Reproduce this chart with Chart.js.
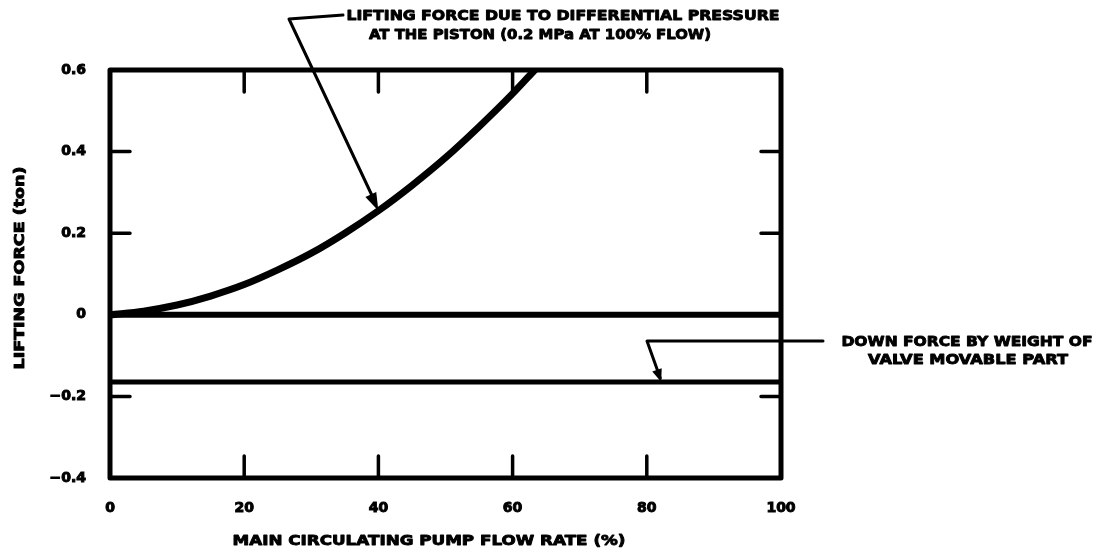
<!DOCTYPE html>
<html>
<head>
<meta charset="utf-8">
<script src="https://cdn.jsdelivr.net/npm/chart.js@4.4.1/dist/chart.umd.min.js"></script>
<style>
  html, body { margin: 0; padding: 0; background: #fff; }
  #wrap { width: 1102px; height: 553px; }
</style>
</head>
<body>
<div id="wrap"><canvas id="c" width="1102" height="553"></canvas></div>
<script>
// Pump flow rate (%) and lifting force from the piston differential pressure (ton)
const flowRate     = [0, 5, 10, 15, 20, 25, 30, 35, 40, 45, 50, 55, 60, 63.3];
const liftingForce = [0, 0.009, 0.024, 0.046, 0.074, 0.11, 0.151, 0.2, 0.255, 0.317, 0.385, 0.461, 0.542, 0.6];

// Horizontal reference levels (ton)
const zeroLevel = [0, 0];
const downForce = [-0.165, -0.165];
const levelSpan = [0, 100];

// Axis ticks
const xTicks = [0, 20, 40, 60, 80, 100];
const yTicks = [-0.4, -0.2, 0, 0.2, 0.4, 0.6];

// Annotation anchors: where each leader arrow touches its line
const liftArrowAt = 40;
const downArrowAt = 82;

const FONT = '"DejaVu Sans", "Liberation Sans", sans-serif';

function pts(xs, ys) { return xs.map((x, i) => ({ x: x, y: ys[i] })); }

function interp(xs, ys, x) {
  for (let i = 1; i < xs.length; i++) {
    if (x <= xs[i]) {
      const t = (x - xs[i - 1]) / (xs[i] - xs[i - 1]);
      return ys[i - 1] + t * (ys[i] - ys[i - 1]);
    }
  }
  return ys[ys.length - 1];
}

// heavy lettering fitted to a given width, centred on (cx, cy)
function fitText(ctx, text, cx, cy, width, size) {
  ctx.save();
  ctx.font = 'bold ' + size + 'px ' + FONT;
  ctx.textAlign = 'center';
  ctx.textBaseline = 'middle';
  const w = ctx.measureText(text).width;
  ctx.translate(cx, cy);
  ctx.scale(width / w, 1);
  ctx.lineWidth = 0.9;
  ctx.lineJoin = 'round';
  ctx.strokeStyle = '#000';
  ctx.fillText(text, 0, 0);
  ctx.strokeText(text, 0, 0);
  ctx.restore();
}

function arrowHead(ctx, fx, fy, tx, ty, len, half) {
  const a = Math.atan2(ty - fy, tx - fx);
  ctx.beginPath();
  ctx.moveTo(tx, ty);
  ctx.lineTo(tx - len * Math.cos(a) + half * Math.sin(a), ty - len * Math.sin(a) - half * Math.cos(a));
  ctx.lineTo(tx - len * Math.cos(a) - half * Math.sin(a), ty - len * Math.sin(a) + half * Math.cos(a));
  ctx.closePath();
  ctx.fill();
}

const framePlugin = {
  id: 'frame',
  afterDatasetsDraw(chart) {
    const { ctx, chartArea: a, scales: { x, y } } = chart;
    ctx.save();
    ctx.strokeStyle = '#000';
    ctx.fillStyle = '#000';
    ctx.lineCap = 'round';

    // plot frame
    ctx.lineWidth = 5;
    ctx.lineJoin = 'round';
    ctx.strokeRect(a.left, a.top, a.right - a.left, a.bottom - a.top);

    // inward ticks on all four sides
    ctx.lineWidth = 3.5;
    xTicks.slice(1, -1).forEach(v => {
      const px = x.getPixelForValue(v);
      ctx.beginPath();
      ctx.moveTo(px, a.bottom); ctx.lineTo(px, a.bottom - 22);
      ctx.moveTo(px, a.top); ctx.lineTo(px, a.top + 22);
      ctx.stroke();
    });
    [0.4, 0.2, -0.2].forEach(v => {
      const py = y.getPixelForValue(v);
      ctx.beginPath();
      ctx.moveTo(a.left, py); ctx.lineTo(a.left + 20, py);
      ctx.moveTo(a.right, py); ctx.lineTo(a.right - 20, py);
      ctx.stroke();
    });

    // leader to the lifting-force curve
    const t1x = x.getPixelForValue(liftArrowAt);
    const t1y = y.getPixelForValue(interp(flowRate, liftingForce, liftArrowAt));
    ctx.lineWidth = 3;
    ctx.beginPath();
    ctx.moveTo(343, 15);
    ctx.lineTo(289, 19);
    ctx.lineTo(t1x - 3, t1y - 8);
    ctx.stroke();
    arrowHead(ctx, 289, 19, t1x, t1y, 18, 6);

    // leader to the down-force line
    const t2x = x.getPixelForValue(downArrowAt);
    const t2y = y.getPixelForValue(downForce[0]);
    ctx.lineWidth = 3;
    ctx.beginPath();
    ctx.moveTo(823, 341);
    ctx.lineTo(647, 341);
    ctx.lineTo(t2x, t2y - 4);
    ctx.stroke();
    arrowHead(ctx, 647, 341, t2x + 1, t2y, 13, 5);

    // annotation text
    fitText(ctx, 'LIFTING FORCE DUE TO DIFFERENTIAL PRESSURE', 563, 16, 433, 14);
    fitText(ctx, 'AT THE PISTON (0.2 MPa AT 100% FLOW)', 540, 35, 342, 14);
    fitText(ctx, 'DOWN FORCE BY WEIGHT OF', 967, 342, 251, 14);
    fitText(ctx, 'VALVE MOVABLE PART', 968, 360, 200, 14);

    // axis titles
    fitText(ctx, 'MAIN CIRCULATING PUMP FLOW RATE (%)', 429, 541, 393, 14);
    ctx.save();
    ctx.translate(20, 268);
    ctx.rotate(-Math.PI / 2);
    fitText(ctx, 'LIFTING FORCE (ton)', 0, 0, 203, 14);
    ctx.restore();

    ctx.restore();
  }
};

new Chart(document.getElementById('c'), {
  type: 'scatter',
  data: {
    datasets: [
      {
        label: 'Lifting force',
        data: pts(flowRate, liftingForce),
        showLine: true,
        borderColor: '#000',
        borderWidth: 7,
        pointRadius: 0,
        cubicInterpolationMode: 'monotone',
        borderCapStyle: 'round'
      },
      {
        label: 'Zero',
        data: pts(levelSpan, zeroLevel),
        showLine: true,
        borderColor: '#000',
        borderWidth: 6,
        pointRadius: 0
      },
      {
        label: 'Down force',
        data: pts(levelSpan, downForce),
        showLine: true,
        borderColor: '#000',
        borderWidth: 5,
        pointRadius: 0
      }
    ]
  },
  options: {
    responsive: false,
    animation: false,
    events: [],
    layout: { padding: { left: 0, top: 70, right: 321, bottom: 0 } },
    plugins: { legend: { display: false }, tooltip: { enabled: false } },
    scales: {
      x: {
        type: 'linear',
        min: 0, max: 100,
        afterBuildTicks: s => { s.ticks = xTicks.map(v => ({ value: v })); },
        afterFit: s => { s.height = 75; },
        grid: { display: false, drawTicks: false },
        border: { display: false },
        ticks: {
          padding: 22,
          color: '#000',
          textStrokeColor: '#000',
          textStrokeWidth: 1,
          font: { family: FONT, size: 14, weight: 'bold' },
          maxRotation: 0,
          callback: v => String(v)
        }
      },
      y: {
        type: 'linear',
        min: -0.4, max: 0.6,
        afterBuildTicks: s => { s.ticks = yTicks.map(v => ({ value: v })); },
        afterFit: s => { s.width = 110; },
        grid: { display: false, drawTicks: false },
        border: { display: false },
        ticks: {
          padding: 24,
          color: '#000',
          textStrokeColor: '#000',
          textStrokeWidth: 1,
          font: { family: FONT, size: 14, weight: 'bold' },
          callback: v => (Math.abs(v) < 1e-9 ? '0' : v.toFixed(1).replace('-', '\u2212'))
        }
      }
    }
  },
  plugins: [framePlugin]
});
</script>
</body>
</html>
